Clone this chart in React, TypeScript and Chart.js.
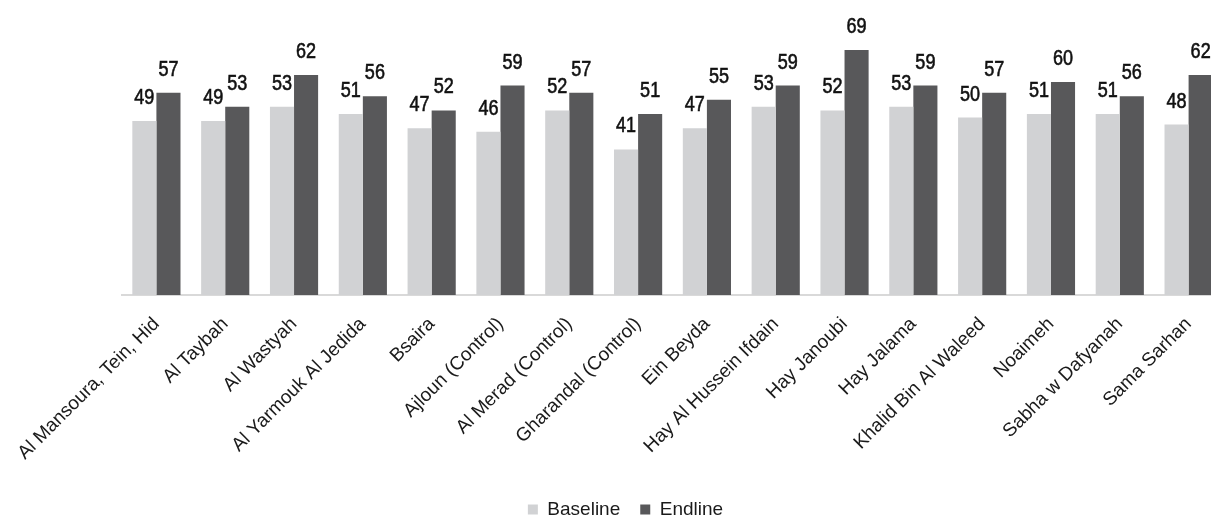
import React, { useEffect, useRef } from "react";
import { Chart, registerables } from "chart.js";

Chart.register(...registerables);

const categories = [
  "Al Mansoura, Tein, Hid",
  "Al Taybah",
  "Al Wastyah",
  "Al Yarmouk Al Jedida",
  "Bsaira",
  "Ajloun (Control)",
  "Al Merad (Control)",
  "Gharandal (Control)",
  "Ein Beyda",
  "Hay Al Hussein Ifdain",
  "Hay Janoubi",
  "Hay Jalama",
  "Khalid Bin Al Waleed",
  "Noaimeh",
  "Sabha w Dafyanah",
  "Sama Sarhan",
];
const baseline = [49, 49, 53, 51, 47, 46, 52, 41, 47, 53, 52, 53, 50, 51, 51, 48];
const endline = [57, 53, 62, 56, 52, 59, 57, 51, 55, 59, 69, 59, 57, 60, 56, 62];

const SANS = "'Liberation Sans', Arial, sans-serif";

const valueLabels = {
  id: "valueLabels",
  afterDatasetsDraw(chart: any) {
    const ctx = chart.ctx;
    ctx.save();
    ctx.font = `22px ${SANS}`;
    ctx.fillStyle = "#111";
    ctx.textAlign = "center";
    ctx.textBaseline = "alphabetic";
    chart.data.datasets.forEach((ds: any, di: number) => {
      const meta = chart.getDatasetMeta(di);
      meta.data.forEach((el: any, i: number) => {
        ctx.save();
        ctx.translate(el.x, el.y - 17);
        ctx.scale(0.82, 1);
        ctx.lineWidth = 0.6;
        ctx.strokeStyle = "#111";
        ctx.fillText(String(ds.data[i]), 0, 0);
        ctx.strokeText(String(ds.data[i]), 0, 0);
        ctx.restore();
      });
    });
    ctx.restore();
  },
};

export default function App() {
  const ref = useRef<HTMLCanvasElement>(null);
  useEffect(() => {
    if (!ref.current) return;
    const chart = new Chart(ref.current, {
      type: "bar",
      data: {
        labels: categories,
        datasets: [
          { label: "Baseline", data: baseline, backgroundColor: "#D1D2D4" },
          { label: "Endline", data: endline, backgroundColor: "#58585A" },
        ],
      },
      options: {
        responsive: false,
        animation: false,
        layout: { padding: { left: 28, right: 0, top: 11, bottom: 0 } },
        datasets: {
          bar: { categoryPercentage: 0.7, barPercentage: 1.0 },
        } as any,
        scales: {
          x: {
            grid: { display: false },
            border: { display: true, color: "#D9D9D9", width: 2 },
            ticks: {
              autoSkip: false,
              minRotation: 45,
              maxRotation: 45,
              padding: 10,
              color: "#1a1a1a",
              font: { family: SANS, size: 19 },
            },
            afterFit: (s: any) => {
              s.height = 185;
            },
          },
          y: {
            display: true,
            min: 0,
            max: 80,
            grid: { display: false },
            border: { display: false },
            ticks: { display: false },
            afterFit: (s: any) => {
              s.width = 94;
            },
          },
        },
        plugins: {
          legend: {
            position: "bottom",
            labels: {
              boxWidth: 10,
              boxHeight: 10,
              padding: 20,
              color: "#1a1a1a",
              font: { family: SANS, size: 19 },
            },
          },
          tooltip: { enabled: false },
        },
      },
      plugins: [valueLabels],
    });
    return () => chart.destroy();
  }, []);
  return (
    <div style={{ position: "fixed", left: 0, top: 0, width: 1211, height: 518, overflow: "hidden", background: "#fff" }}>
      <canvas ref={ref} width={1223} height={529} style={{ width: 1223, height: 529, display: "block" }} />
    </div>
  );
}
